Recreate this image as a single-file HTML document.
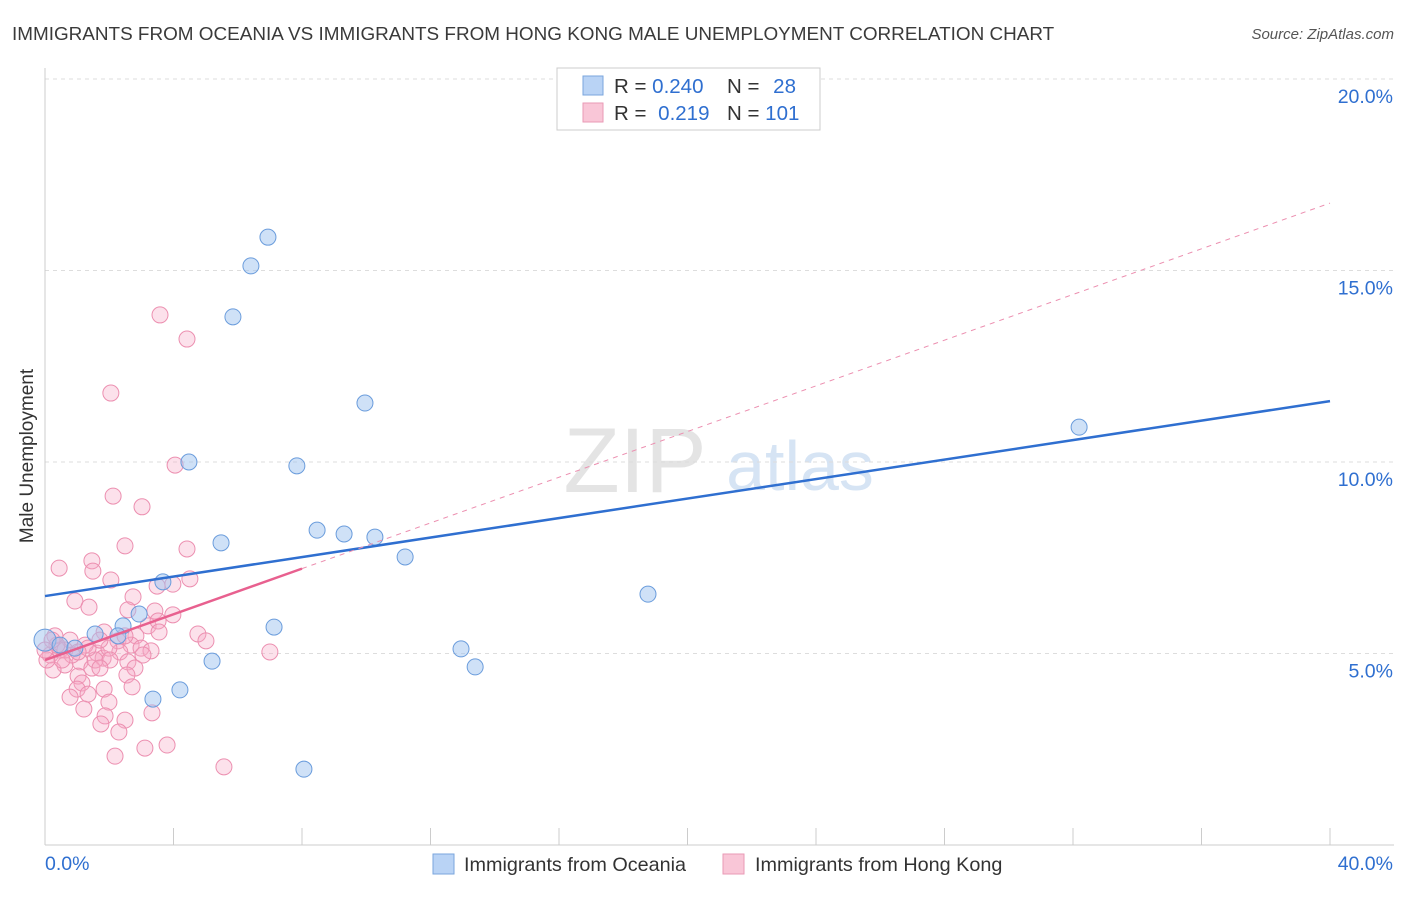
<!DOCTYPE html>
<html><head><meta charset="utf-8"><style>
body{margin:0;background:#fff;font-family:"Liberation Sans",sans-serif;}
svg text{font-family:"Liberation Sans",sans-serif;}
</style></head><body>
<svg id="c" width="1406" height="892">
<text x="12" y="40" font-size="18.9" fill="#3a3a3a">IMMIGRANTS FROM OCEANIA VS IMMIGRANTS FROM HONG KONG MALE UNEMPLOYMENT CORRELATION CHART</text>
<text x="1394" y="39" font-size="15" fill="#555" font-style="italic" text-anchor="end">Source: ZipAtlas.com</text>
<text x="635" y="492" font-size="92" fill="#e4e4e4" font-family="Liberation Serif" text-anchor="middle">ZIP</text>
<text x="800" y="490" font-size="70" fill="#d6e4f4" text-anchor="middle">atlas</text>
<g id="grid"></g><g id="marks"></g><g id="lines"></g>
<text x="33" y="456" font-size="19" fill="#333" text-anchor="middle" transform="rotate(-90 33 456)">Male Unemployment</text>
<g>
<rect x="557" y="68" width="263" height="62" fill="#fff" stroke="#ccc"/>
<rect x="583" y="76" width="20" height="19" fill="#b9d3f5" stroke="#7aa6dd"/>
<rect x="583" y="103" width="20" height="19" fill="#f9c6d7" stroke="#e99ab6"/>
<text x="614" y="93" font-size="20.5" fill="#333">R = <tspan fill="#2f6fd0">0.240</tspan></text>
<text x="727" y="93" font-size="20.5" fill="#333">N = <tspan fill="#2f6fd0" dx="8">28</tspan></text>
<text x="614" y="120" font-size="20.5" fill="#333">R = <tspan fill="#2f6fd0" dx="6">0.219</tspan></text>
<text x="727" y="120" font-size="20.5" fill="#333">N = <tspan fill="#2f6fd0">101</tspan></text>
</g>
<g>
<rect x="433" y="854" width="21" height="20" fill="#b9d3f5" stroke="#7aa6dd"/>
<text x="464" y="871" font-size="19.8" fill="#333">Immigrants from Oceania</text>
<rect x="723" y="854" width="21" height="20" fill="#f9c6d7" stroke="#e99ab6"/>
<text x="755" y="871" font-size="19.8" fill="#333">Immigrants from Hong Kong</text>
</g>
</svg>
<script>
const yTicks=[5,10,15,20];
const xTickLabels=["0.0%","40.0%"];
const blueX=[6.94,6.41,5.85,9.96,32.19,4.48,7.84,5.48,8.47,9.31,10.27,11.21,3.67,2.93,18.77,2.43,7.13,1.56,2.27,5.20,12.95,13.39,3.36,4.20,8.06,0,0.47,0.93];
const blueY=[15.87,15.12,13.79,11.54,10.91,10.0,9.90,7.89,8.22,8.12,8.04,7.52,6.87,6.03,6.55,5.72,5.69,5.51,5.46,4.80,5.12,4.65,3.81,4.05,1.98,5.35,5.22,5.14];
const pinkX=[3.58,4.42,2.05,4.05,2.12,3.02,2.49,4.42,1.46,0.44,1.49,2.05,4.51,3.49,3.98,0.93,2.74,1.37,2.58,3.42,3.98,3.21,3.52,1.84,2.83,3.55,4.76,5.01,7.00,2.27,2.68,2.99,3.30,2.33,1.62,1.81,1.09,0.62,0.25,2.58,2.80,2.55,1.46,1.03,1.15,1.84,1.00,2.71,1.34,0.78,1.99,1.21,3.33,1.87,2.49,1.74,2.30,3.80,3.11,2.18,5.57,0.47,0.16,0.78,1.25,1.99,0.31,0.62,0.06,1.56,0.84,0.37,1.34,1.71,2.49,0.22,0.53,1.03,0,2.02,3.05,1.71];
const pinkY=[13.84,13.21,11.8,9.92,9.11,8.83,7.81,7.73,7.42,7.23,7.15,6.92,6.95,6.76,6.81,6.37,6.48,6.21,6.14,6.11,6.01,5.72,5.85,5.56,5.46,5.56,5.51,5.33,5.04,5.33,5.22,5.14,5.07,5.04,5.01,4.88,4.78,4.70,4.57,4.78,4.62,4.44,4.62,4.41,4.23,4.07,4.07,4.13,3.94,3.86,3.73,3.55,3.45,3.37,3.26,3.16,2.95,2.61,2.53,2.32,2.04,5.09,4.96,5.35,5.22,5.14,5.46,5.09,4.83,4.83,4.96,5.22,5.14,5.35,5.46,5.35,4.83,5.04,5.09,4.83,4.96,4.62];
const blueTrend=[6.5,11.59];
const pinkTrend=[4.83,16.76];
const pinkSolidEnd=8;
const X=v=>45+v*32.125, Y=v=>845-v*38.3;
const NS="http://www.w3.org/2000/svg";
function mk(p,t,a){const e=document.createElementNS(NS,t);for(const k in a)e.setAttribute(k,a[k]);p.appendChild(e);return e;}
const g=document.getElementById('grid'),m=document.getElementById('marks'),l=document.getElementById('lines');
yTicks.forEach(t=>{const e=mk(g,'line',{x1:45,x2:1394,y1:Y(t),y2:Y(t),stroke:'#ddd','stroke-dasharray':'4,4'});


const tx=mk(g,'text',{x:1393,y:Y(t)+24,'font-size':19.5,fill:'#2f6fd0','text-anchor':'end'});tx.textContent=t.toFixed(1)+'%';

});
mk(g,'line',{x1:45,x2:45,y1:68,y2:845,stroke:'#ccc'});
mk(g,'line',{x1:45,x2:1394,y1:845,y2:845,stroke:'#ccc'});
for(let i=0;i<=10;i++){mk(g,'line',{x1:X(i*4),x2:X(i*4),y1:828,y2:845,stroke:'#ccc'});}
const xl=mk(g,'text',{x:45,y:870,'font-size':19.5,fill:'#2f6fd0'});xl.textContent=xTickLabels[0];


const xr=mk(g,'text',{x:1393,y:870,'font-size':19.5,fill:'#2f6fd0','text-anchor':'end'});xr.textContent=xTickLabels[1];


pinkX.forEach((v,i)=>{const c=mk(m,'circle',{cx:X(v),cy:Y(pinkY[i]),r:8,fill:'rgba(246,170,198,0.35)',stroke:'#ec8fb0','stroke-width':1});

});
blueX.forEach((v,i)=>{const c=mk(m,'circle',{cx:X(v),cy:Y(blueY[i]),r:i==25?11:8,fill:'rgba(160,196,240,0.5)',stroke:'#6a9cdc','stroke-width':1});

});
const pAt=x=>pinkTrend[0]+(pinkTrend[1]-pinkTrend[0])*x/40;
const bl=mk(l,'line',{x1:X(0),y1:Y(blueTrend[0]),x2:X(40),y2:Y(blueTrend[1]),stroke:'#2f6fd0','stroke-width':2.5});


const pd=mk(l,'line',{x1:X(pinkSolidEnd),y1:Y(pAt(pinkSolidEnd)),x2:X(40),y2:Y(pAt(40)),stroke:'#ec8fb0','stroke-width':1,'stroke-dasharray':'5,5'});


const ps=mk(l,'line',{x1:X(0),y1:Y(pAt(0)),x2:X(pinkSolidEnd),y2:Y(pAt(pinkSolidEnd)),stroke:'#e8608f','stroke-width':2.5});


</script>
</body></html>
